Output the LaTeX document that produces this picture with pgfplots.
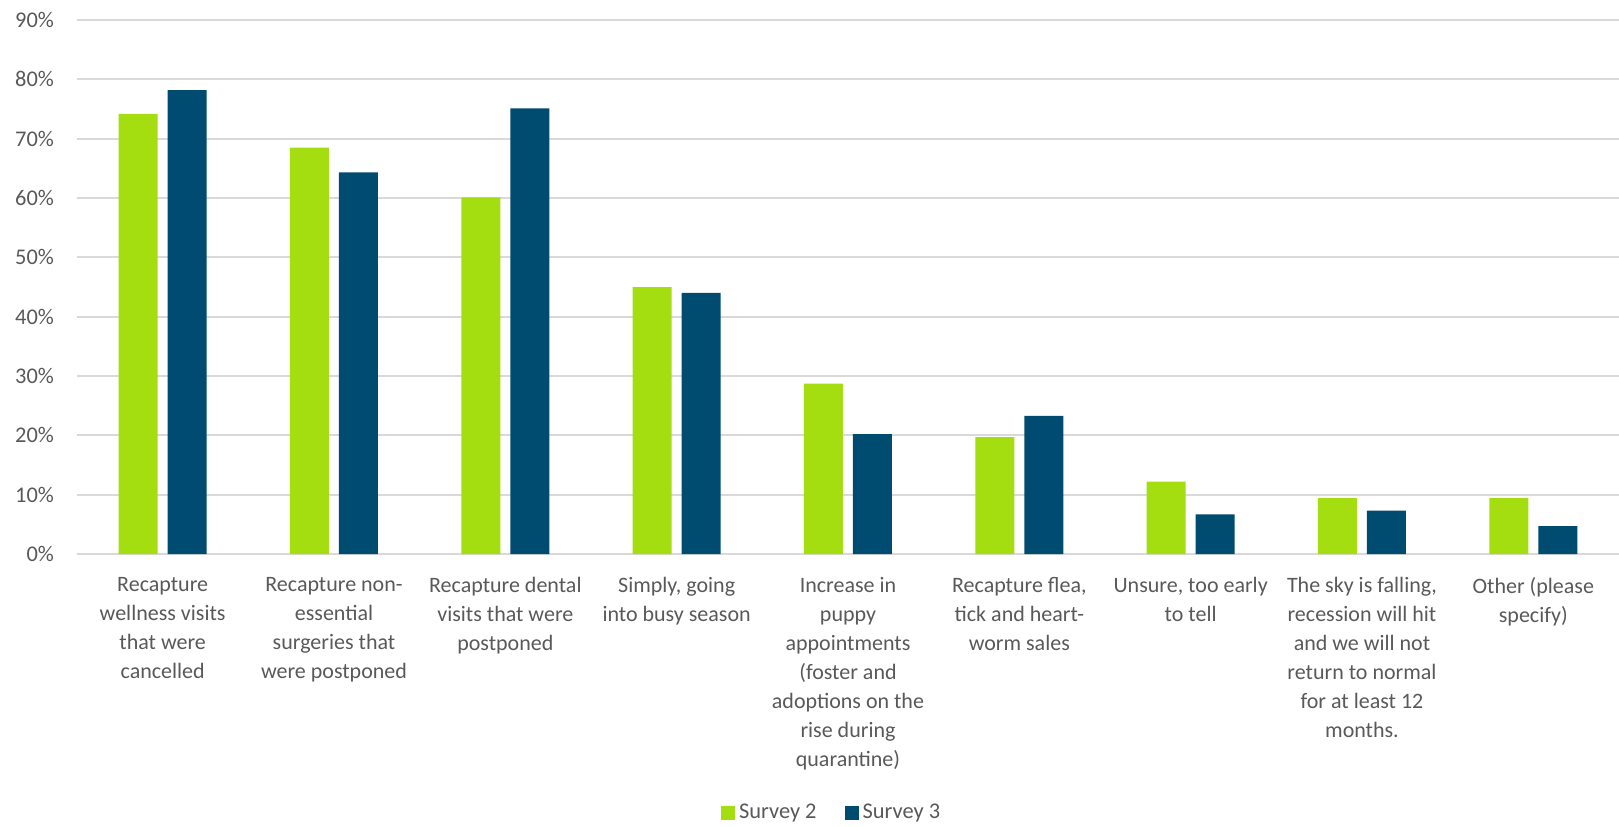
\documentclass[border=0pt]{standalone}
\usepackage{pgfplots}
\pgfplotsset{compat=1.18}
\usepackage{fontspec}
\setmainfont{Carlito}
\definecolor{sgreen}{RGB}{164,222,16}
\definecolor{sblue}{RGB}{0,75,112}
\definecolor{tgray}{RGB}{89,89,89}
\definecolor{ggray}{RGB}{217,217,217}
\begin{document}
\begin{tikzpicture}
\begin{axis}[
  scale only axis,
  width=771pt, height=267pt,
  xmin=-0.5, xmax=8.5, ymin=0, ymax=90,
  ybar=5pt, bar width=19.5pt,
  axis line style={draw=none},
  tick style={draw=none},
  ytick={0,10,...,90},
  yticklabel={\pgfmathprintnumber{\tick}\%},
  /pgf/number format/assume math mode=true,
  yticklabel style={font=\fontsize{11.2}{14}\selectfont, text=tgray, xshift=-8pt},
  ymajorgrids,
  grid style={ggray, line width=1pt},
  xtick={0,...,8},
  xticklabels={
    {Recapture\\wellness visits\\that were\\cancelled},
    {Recapture non-\\essential\\surgeries that\\were postponed},
    {Recapture dental\\visits that were\\postponed},
    {Simply, going\\into busy season},
    {Increase in\\puppy\\appointments\\(foster and\\adoptions on the\\rise during\\quarantine)},
    {Recapture flea,\\tick and heart-\\worm sales},
    {Unsure, too early\\to tell},
    {The sky is falling,\\recession will hit\\and we will not\\return to normal\\for at least 12\\months.},
    {Other (please\\specify)}},
  xticklabel style={font=\fontsize{11}{14.5}\selectfont, text=tgray, align=center, anchor=north, yshift=-4pt},
  legend style={at={(0.49,0)}, yshift=-129.5pt, anchor=center, draw=none, legend columns=2,
    font=\fontsize{11.2}{14}\selectfont, text=tgray,
    /tikz/every even column/.append style={column sep=12pt}},
  legend image code/.code={\fill[#1] (0pt,-3.5pt) rectangle (7pt,3.5pt);},
]
\addplot[draw=none, fill=sgreen] coordinates {(0,74.2) (1,68.5) (2,60.1) (3,45.0) (4,28.7) (5,19.7) (6,12.2) (7,9.4) (8,9.4)};
\addplot[draw=none, fill=sblue] coordinates {(0,78.2) (1,64.3) (2,75.1) (3,44.0) (4,20.2) (5,23.3) (6,6.7) (7,7.3) (8,4.7)};
\legend{Survey 2, Survey 3}
\end{axis}
\pgfresetboundingbox
\useasboundingbox (-38.5pt,-136pt) rectangle (771pt,277pt);
\end{tikzpicture}
\end{document}
